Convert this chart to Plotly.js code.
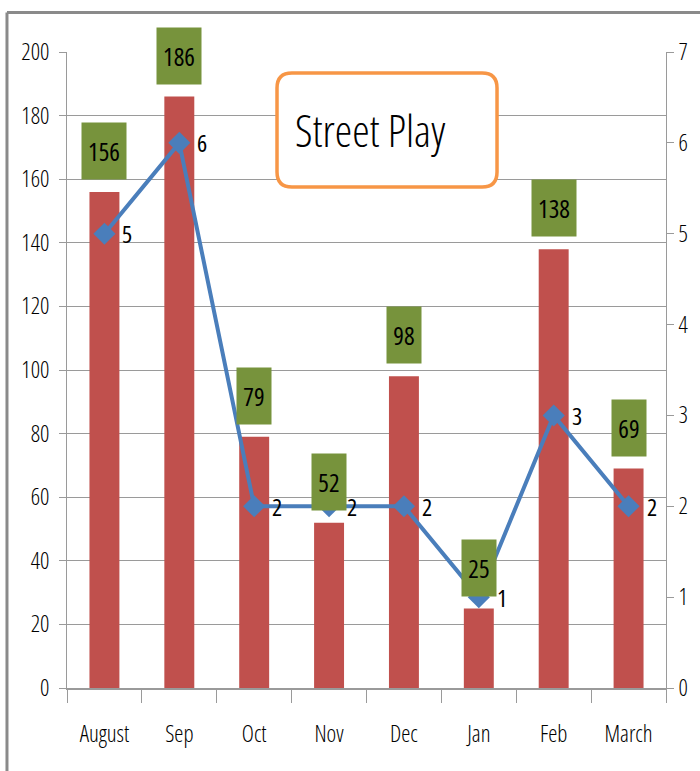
<!DOCTYPE html>
<html>
<head>
<meta charset="utf-8">
<script src="https://cdn.plot.ly/plotly-3.0.1.min.js"></script>
<style>
html,body{margin:0;padding:0;background:#fff;}
#chart{width:700px;height:771px;}
svg text, svg tspan{font-stretch:condensed !important;}
</style>
</head>
<body>
<div id="chart"></div>
<script>
const categories = ["August","Sep","Oct","Nov","Dec","Jan","Feb","March"];
const barValues = [156,186,79,52,98,25,138,69];
const lineValues = [5,6,2,2,2,1,3,2];
const leftTicks = [0,20,40,60,80,100,120,140,160,180,200];
const rightTicks = [0,1,2,3,4,5,6,7];
const chartTitle = "Street Play";

const FONT = "'Open Sans', 'Liberation Sans', sans-serif";
const GRID = "#9a9a9a";

const bars = {
  type: "bar",
  x: categories,
  y: barValues,
  width: 0.4,
  marker: {color: "#C0504D"},
  hoverinfo: "x+y",
  showlegend: false
};

const line = {
  type: "scatter",
  mode: "lines+markers",
  x: categories,
  y: lineValues,
  yaxis: "y2",
  line: {color: "#4A7EBB", width: 4},
  marker: {symbol: "diamond", size: 17, color: "#4A7EBB"},
  cliponaxis: false,
  showlegend: false
};

const annotations = barValues.map((v, i) => ({
  x: categories[i], y: v, xref: "x", yref: "y",
  text: String(v),
  showarrow: false,
  yanchor: "bottom",
  yshift: 12,
  width: String(v).length > 2 ? 42 : 32,
  height: 54,
  borderpad: 1,
  bgcolor: "#77933C",
  font: {family: FONT, size: 25, color: "#000"}
}));

lineValues.forEach((v, i) => annotations.push({
  x: categories[i], y: v, xref: "x", yref: "y2",
  text: String(v), showarrow: false,
  xanchor: "left", yanchor: "middle", xshift: 16, yshift: 0,
  font: {family: FONT, size: 24, color: "#000"}
}));

annotations.push({
  x: 0.377, y: 0.877, xref: "paper", yref: "paper",
  xanchor: "left", yanchor: "middle",
  text: chartTitle, showarrow: false,
  font: {family: FONT, size: 44, color: "#000", weight: 300}
});

// rounded title box (paper coordinates)
const bx0 = 0.3506, bx1 = 0.7179, by0 = 0.7877, by1 = 0.967, rx = 0.025, ry = 0.0236;
const boxPath = `M ${bx0+rx},${by1} L ${bx1-rx},${by1} Q ${bx1},${by1} ${bx1},${by1-ry} ` +
  `L ${bx1},${by0+ry} Q ${bx1},${by0} ${bx1-rx},${by0} L ${bx0+rx},${by0} ` +
  `Q ${bx0},${by0} ${bx0},${by0+ry} L ${bx0},${by1-ry} Q ${bx0},${by1} ${bx0+rx},${by1} Z`;

const shapes = [
  {type: "path", xref: "paper", yref: "paper", path: boxPath,
   line: {color: "#F79646", width: 3.5}, fillcolor: "#FFFFFF", layer: "above"},
  {type: "line", xref: "paper", yref: "paper", x0: -0.1002, x1: 1.06, y0: 1.0621, y1: 1.0621,
   line: {color: "#8a8a8a", width: 3}},
  {type: "line", xref: "paper", yref: "paper", x0: -0.1002, x1: -0.1002, y0: 1.0621, y1: -0.14,
   line: {color: "#8a8a8a", width: 3}}
];

const tickFont = {family: FONT, size: 23, color: "#000", weight: 300};

const layout = {
  width: 700, height: 771,
  margin: {l: 67, r: 34, t: 52, b: 83, pad: 0},
  paper_bgcolor: "#fff", plot_bgcolor: "#fff",
  font: {family: FONT, size: 23, color: "#000"},
  xaxis: {
    type: "category",
    range: [-0.5, 7.5],
    showgrid: false,
    showline: true, linecolor: GRID, linewidth: 1.5,
    ticks: "outside", tickson: "boundaries", ticklen: 13, tickcolor: GRID, tickwidth: 1,
    tickangle: 0,
    tickfont: tickFont,
    ticklabelstandoff: 25,
    automargin: false,
    zeroline: false
  },
  yaxis: {
    range: [0, 200],
    tickvals: leftTicks,
    ticktext: leftTicks.map(String),
    showgrid: true, gridcolor: GRID, gridwidth: 1,
    showline: true, linecolor: GRID, linewidth: 1,
    ticks: "outside", ticklen: 7, tickcolor: GRID,
    tickfont: tickFont,
    ticklabelstandoff: 5,
    automargin: false,
    zeroline: false
  },
  yaxis2: {
    range: [0, 7],
    tickvals: rightTicks,
    ticktext: rightTicks.map(String),
    overlaying: "y", side: "right",
    showgrid: false,
    showline: true, linecolor: GRID, linewidth: 1,
    ticks: "outside", ticklen: 7, tickcolor: GRID,
    tickfont: tickFont,
    ticklabelstandoff: 0,
    automargin: false,
    zeroline: false
  },
  annotations: annotations,
  shapes: shapes,
  showlegend: false
};

Plotly.newPlot("chart", [bars, line], layout, {displayModeBar: false, staticPlot: true});
</script>
</body>
</html>
